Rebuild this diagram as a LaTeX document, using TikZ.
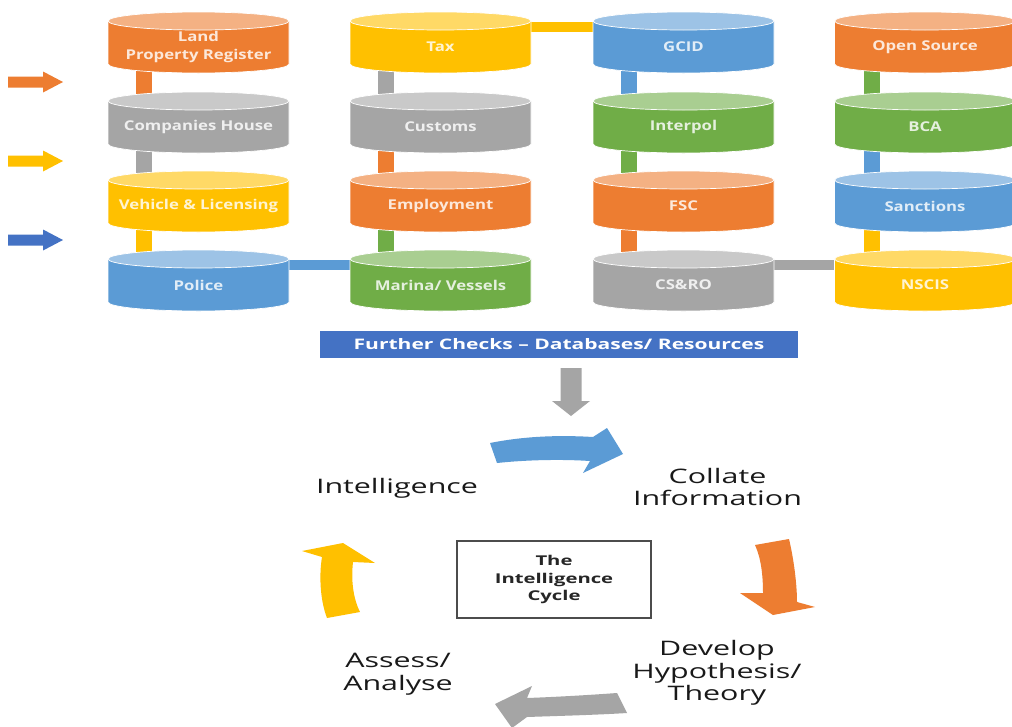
\documentclass[tikz,border=0pt]{standalone}
\usepackage{fontspec}
\setmainfont{Open Sans}
\newfontfamily\cylf[FakeStretch=1.24]{Open Sans}
\newfontfamily\cycf[FakeStretch=1.52]{Open Sans}
\newfontfamily\banf[FakeStretch=1.45]{Open Sans}
\newfontfamily\boxf[FakeStretch=1.5]{Open Sans}
\usetikzlibrary{calc,backgrounds}
\definecolor{corange}{HTML}{ED7D31}
\definecolor{cgray}{HTML}{A5A5A5}
\definecolor{cyellow}{HTML}{FFC000}
\definecolor{cblue}{HTML}{5B9BD5}
\definecolor{cgreen}{HTML}{70AD47}
\definecolor{cdblue}{HTML}{4472C4}
\tikzset{
  lab/.style={align=center, inner sep=0pt, font=\cylf\bfseries\fontsize{13.5}{18}\selectfont},
  cyc/.style={align=center, inner sep=0pt, text=black!90, font=\cycf\fontsize{20}{22.5}\selectfont},
  vbar/.style={line width=16pt},
  hbar/.style={line width=10pt},
}
\newcommand\dbcyl[5]{%
  \fill[#4, draw=white, line width=0.7pt] (#2-90.5,#3+9) -- (#2-90.5,#3+52)
     arc[start angle=180, end angle=0, x radius=90.5, y radius=9] -- (#2+90.5,#3+9) -- cycle;
  \fill[#4!60!white, draw=white, line width=0.7pt] (#2,#3+9) ellipse[x radius=90.5, y radius=9];
  \node[lab, text=white!82!#4] (#1) at (#2,#3+35) {#5};
}
\newcommand\larrow[2]{%
  \fill[#2] (8,#1-5.5) -- (43,#1-5.5) -- (43,#1-10.5) -- (63,#1) -- (43,#1+10.5) -- (43,#1+5.5) -- (8,#1+5.5) -- cycle;
}
\begin{document}
\begin{tikzpicture}[x=1pt,y=-1pt]
\useasboundingbox (0,0) rectangle (1012,726);
\clip (0,0) rectangle (1012,726);
% cylinders
\dbcyl{land}{198.5}{12}{corange}{Land\\Property Register}
\dbcyl{comp}{198.5}{92}{cgray}{Companies House}
\dbcyl{vehicle}{198.5}{171}{cyellow}{Vehicle \& Licensing}
\dbcyl{police}{198.5}{250}{cblue}{Police}
\dbcyl{tax}{440.5}{12}{cyellow}{Tax}
\dbcyl{customs}{440.5}{92}{cgray}{Customs}
\dbcyl{employ}{440.5}{171}{corange}{Employment}
\dbcyl{marina}{440.5}{250}{cgreen}{Marina/ Vessels}
\dbcyl{gcid}{683.5}{12}{cblue}{GCID}
\dbcyl{interpol}{683.5}{92}{cgreen}{Interpol}
\dbcyl{fsc}{683.5}{171}{corange}{FSC}
\dbcyl{csro}{683.5}{250}{cgray}{CS\&RO}
\dbcyl{opensrc}{925}{12}{corange}{Open Source}
\dbcyl{bca}{925}{92}{cgreen}{BCA}
\dbcyl{sanctions}{925}{171}{cblue}{Sanctions}
\dbcyl{nscis}{925}{250}{cyellow}{NSCIS}
% connectors behind
\begin{scope}[on background layer]
  \fill[white] (0,0) rectangle (1012,726);
  \draw[vbar, corange] ($(land)+(-55,0)$) -- ($(comp)+(-55,0)$);
  \draw[vbar, cgray]   ($(comp)+(-55,0)$) -- ($(vehicle)+(-55,0)$);
  \draw[vbar, cyellow] ($(vehicle)+(-55,0)$) -- ($(police)+(-55,0)$);
  \draw[vbar, cgray]   ($(tax)+(-55,0)$) -- ($(customs)+(-55,0)$);
  \draw[vbar, corange] ($(customs)+(-55,0)$) -- ($(employ)+(-55,0)$);
  \draw[vbar, cgreen]  ($(employ)+(-55,0)$) -- ($(marina)+(-55,0)$);
  \draw[vbar, cblue]   ($(gcid)+(-55,0)$) -- ($(interpol)+(-55,0)$);
  \draw[vbar, cgreen]  ($(interpol)+(-55,0)$) -- ($(fsc)+(-55,0)$);
  \draw[vbar, corange] ($(fsc)+(-55,0)$) -- ($(csro)+(-55,0)$);
  \draw[vbar, cgreen]  ($(opensrc)+(-53,0)$) -- ($(bca)+(-53,0)$);
  \draw[vbar, cblue]   ($(bca)+(-53,0)$) -- ($(sanctions)+(-53,0)$);
  \draw[vbar, cyellow] ($(sanctions)+(-53,0)$) -- ($(nscis)+(-53,0)$);
  \draw[hbar, cyellow] ($(tax)+(0,-20.5)$) -- ($(gcid)+(0,-20.5)$);
  \draw[hbar, cblue]   ($(police)+(0,-20.5)$) -- ($(marina)+(0,-20.5)$);
  \draw[hbar, cgray]   ($(csro)+(0,-20.5)$) -- ($(nscis)+(0,-20.5)$);
\end{scope}
% left arrows
\larrow{82}{corange}
\larrow{161}{cyellow}
\larrow{240}{cdblue}
% banner
\node[fill=cdblue, minimum width=478pt, minimum height=27pt, inner sep=0pt, text=white,
      font=\banf\bfseries\fontsize{14.5}{17}\selectfont] (banner) at (559,344.5)
      {Further Checks – Databases/ Resources};
\fill[cgray] (560.5,368) -- (581.5,368) -- (581.5,401) -- (590,401) -- (571,416) -- (552,401) -- (560.5,401) -- cycle;
% cycle texts
\node[cyc] (intel) at (397,488) {Intelligence};
\node[cyc] (collate) at (717.5,487) {Collate\\Information};
\node[cyc] (develop) at (717,673) {Develop\\Hypothesis/\\Theory};
\node[cyc] (assess) at (398,674) {Assess/\\Analyse};
\node[draw=black!70, line width=1.4pt, minimum width=194pt, minimum height=77pt, inner sep=0pt,
      align=center, text=black!85, font=\boxf\bfseries\fontsize{13.5}{17.5}\selectfont] (cycle) at (554,579.5)
      {The\\Intelligence\\Cycle};
% curved block arrows
\fill[cblue] (490,443) .. controls (525,436) and (560,435) .. (593,437) -- (607,428) -- (623,454) -- (583,473) -- (590,461)
   .. controls (560,459) and (525,460) .. (497,463) -- cycle;
\fill[corange] (755,545) -- (789,539) .. controls (794,560) and (797,585) .. (797,602) -- (815,607) -- (773,615) -- (740,593) -- (763,593)
   .. controls (763,575) and (761,558) .. (755,545) -- cycle;
\fill[cyellow] (327,618) .. controls (320,600) and (319,575) .. (322,557) -- (302,551) -- (343,543) -- (375,563) -- (353,562)
   .. controls (351,580) and (353,598) .. (360,612) -- cycle;
\fill[cgray] (617,693) .. controls (590,695) and (555,697) .. (527,698) -- (532,686) -- (495,704) -- (512,728) -- (527,717)
   .. controls (555,716) and (595,715) .. (627,713) -- cycle;
\end{tikzpicture}
\end{document}
